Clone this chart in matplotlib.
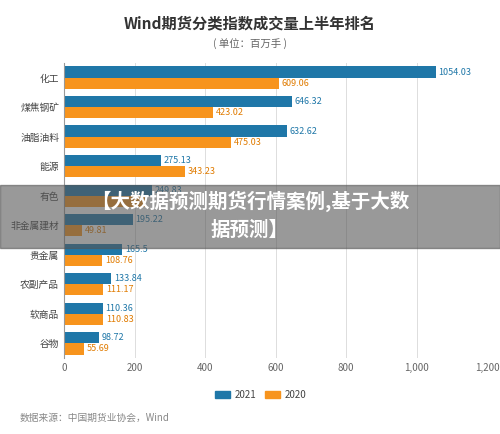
import matplotlib
matplotlib.use("Agg")
import matplotlib.pyplot as plt
import numpy as np
from matplotlib.patches import Rectangle

plt.rcParams['font.family'] = ['Noto Sans CJK SC', 'DejaVu Sans']

categories = ['化工', '煤焦钢矿', '油脂油料', '能源', '有色', '非金属建材', '贵金属', '农副产品', '软商品', '谷物']
v2021 = [1054.03, 646.32, 632.62, 275.13, 249.83, 195.22, 165.5, 133.84, 110.36, 98.72]
v2020 = [609.06, 423.02, 475.03, 343.23, 230.0, 49.81, 108.76, 111.17, 110.83, 55.69]
labels2020 = ['609.06', '423.02', '475.03', '343.23', '', '49.81', '108.76', '111.17', '110.83', '55.69']
xticks = [0, 200, 400, 600, 800, 1000, 1200]

c21 = '#1f77a8'
c20 = '#f7941d'
fig = plt.figure(figsize=(5, 4.34), dpi=100)
ax = fig.add_axes([0.128, 0.175, 0.846, 0.68])
y = np.arange(len(categories))
h = 0.38
ax.barh(y - h/2, v2021, height=h, color=c21)
ax.barh(y + h/2, v2020, height=h, color=c20)
for i in range(len(categories)):
    ax.text(v2021[i] + 8, y[i] - h/2, f'{v2021[i]:g}' if v2021[i] != 1054.03 else '1054.03', va='center', fontsize=6.5, color=c21)
    if labels2020[i]:
        ax.text(v2020[i] + 8, y[i] + h/2, labels2020[i], va='center', fontsize=6.5, color='#e07b00')
ax.set_ylim(len(categories) - 0.5, -0.5)
ax.set_xlim(0, 1200)
ax.set_yticks(y)
ax.set_yticklabels(categories, fontsize=7, color='#444')
ax.set_xticks(xticks)
ax.set_xticklabels([f'{t:,}' for t in xticks], fontsize=7, color='#666')
ax.grid(axis='x', color='#dddddd', lw=0.7)
ax.set_axisbelow(True)
for s in ['top', 'right', 'bottom']:
    ax.spines[s].set_visible(False)
ax.spines['left'].set_color('#999')
ax.tick_params(length=0)

fig.text(0.5, 0.935, 'Wind期货分类指数成交量上半年排名', ha='center', fontsize=11, weight='bold', color='#333')
fig.text(0.5, 0.893, '( 单位：百万手 )', ha='center', fontsize=7.5, color='#666')
fig.patches.append(Rectangle((0.43, 0.082), 0.03, 0.018, transform=fig.transFigure, color=c21))
fig.text(0.47, 0.091, '2021', va='center', fontsize=7, color='#444')
fig.patches.append(Rectangle((0.53, 0.082), 0.03, 0.018, transform=fig.transFigure, color=c20))
fig.text(0.57, 0.091, '2020', va='center', fontsize=7, color='#444')
fig.text(0.04, 0.03, '数据来源：中国期货业协会，Wind', fontsize=7, color='#888')

fig.patches.append(Rectangle((0, 0.428), 1, 0.146, transform=fig.transFigure, color='#555555', alpha=0.6, zorder=10))
fig.text(0.5, 0.535, '【大数据预测期货行情案例,基于大数', ha='center', va='center', fontsize=14, weight='bold', color='white', zorder=11)
fig.text(0.5, 0.47, '据预测】', ha='center', va='center', fontsize=14, weight='bold', color='white', zorder=11)
fig.savefig('out.png', facecolor='white')
